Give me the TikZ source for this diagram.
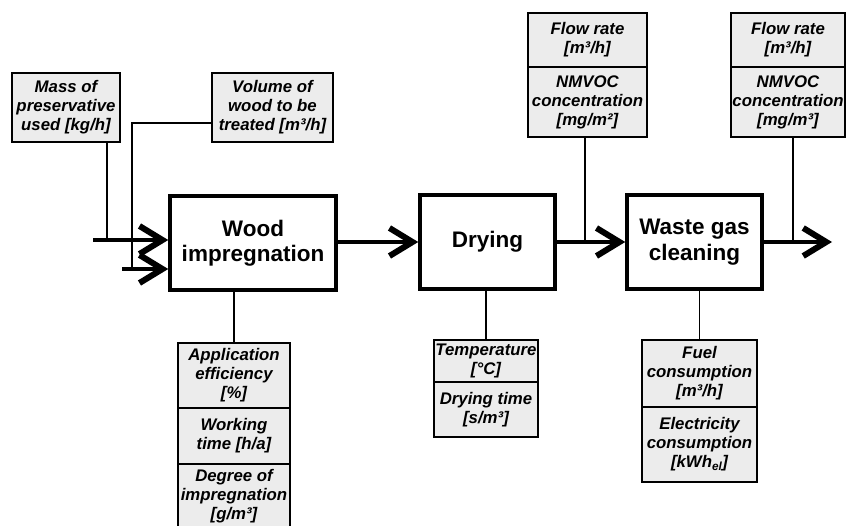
\documentclass[tikz,border=0pt]{standalone}
\usepackage{fontspec}
\setmainfont{Liberation Sans}
\usetikzlibrary{arrows.meta}
\definecolor{cellgray}{RGB}{236,236,236}
\begin{document}
\begin{tikzpicture}[x=1pt,y=-1pt,
  mainbox/.style={draw,line width=3.5pt,fill=white,align=center,inner sep=0pt,
    font=\bfseries\fontsize{22.5}{25.5}\selectfont},
  cell/.style={draw,line width=2.5pt,fill=cellgray,align=center,inner sep=0pt,
    font=\bfseries\itshape\fontsize{16.8}{19}\selectfont},
  thin/.style={line width=1.4pt},
  flow/.style={line width=3.5pt,-{Straight Barb[length=23pt,width=28pt,line width=2.5pt 1]}},
  flowline/.style={line width=3.5pt}]
\useasboundingbox (0,0) rectangle (846,525);
% main process boxes
\node[mainbox,minimum width=166,minimum height=94] (wood) at (253,243) {Wood\\impregnation};
\node[mainbox,minimum width=135,minimum height=94] (dry) at (487.5,242) {Drying};
\node[mainbox,minimum width=135,minimum height=94] (waste) at (694.5,242) {Waste gas\\cleaning};
% top left parameter boxes
\node[cell,minimum width=108,minimum height=69] (mass) at (66,107.5) {Mass of\\preservative\\used [kg/h]};
\node[cell,minimum width=121,minimum height=69] (vol) at (272.5,107.5) {Volume of\\wood to be\\treated [m³/h]};
% top right parameter boxes
\node[cell,minimum width=119,minimum height=54] (flowa) at (587.5,40) {Flow rate\\{[m³/h]}};
\node[cell,minimum width=119,minimum height=70] (nmvoca) at (587.5,102) {NMVOC\\concentration\\{[mg/m²]}};
\node[cell,minimum width=114,minimum height=54] (flowb) at (788,40) {Flow rate\\{[m³/h]}};
\node[cell,minimum width=114,minimum height=70] (nmvocb) at (788,102) {NMVOC\\concentration\\{[mg/m³]}};
% bottom parameter boxes
\node[cell,minimum width=112,minimum height=65] (app) at (234,375.5) {Application\\efficiency\\{[\%]}};
\node[cell,minimum width=112,minimum height=56] (work) at (234,436) {Working\\time [h/a]};
\node[cell,minimum width=112,minimum height=64] (degree) at (234,496) {Degree of\\impregnation\\{[g/m³]}};
\node[cell,minimum width=104,minimum height=42] (temp) at (486,361) {Temperature\\{[°C]}};
\node[cell,minimum width=104,minimum height=55] (drytime) at (486,409.5) {Drying time\\{[s/m³]}};
\node[cell,minimum width=115,minimum height=67] (fuel) at (699.5,373.5) {Fuel\\consumption\\{[m³/h]}};
\node[cell,minimum width=115,minimum height=75] (elec) at (699.5,444.5) {Electricity\\consumption\\{[kWh\textsubscript{el}]}};
% connector coordinates
\coordinate (inA) at (93,240);
\coordinate (inB) at (122,269);
\coordinate (jA) at (107,240);
\coordinate (jB) at (132,269);
\coordinate (vcorner) at (132,123);
\coordinate (jC) at (585,242);
\coordinate (jD) at (793,242);
\coordinate (out) at (832,242);
% main flow arrows
\draw[flow] (inA) -- (inA -| wood.west);
\draw[flow] (inB) -- (inB -| wood.west);
\draw[flow] (wood.east |- dry.west) -- (dry.west);
\draw[flowline] (dry.east) -- (jC);
\draw[flow] (jC) -- (waste.west);
\draw[flowline] (waste.east) -- (jD);
\draw[flow] (jD) -- (out);
% thin connectors
\draw[thin] (mass.south -| jA) -- (jA);
\draw[thin] (vol.west |- vcorner) -- (vcorner) -- (jB);
\draw[thin] (nmvoca.south -| jC) -- (jC);
\draw[thin] (nmvocb.south -| jD) -- (jD);
\draw[thin] (wood.south -| app.north) -- (app.north);
\draw[thin] (dry.south -| temp.north) -- (temp.north);
\draw[thin] (waste.south -| fuel.north) -- (fuel.north);
\end{tikzpicture}
\end{document}
